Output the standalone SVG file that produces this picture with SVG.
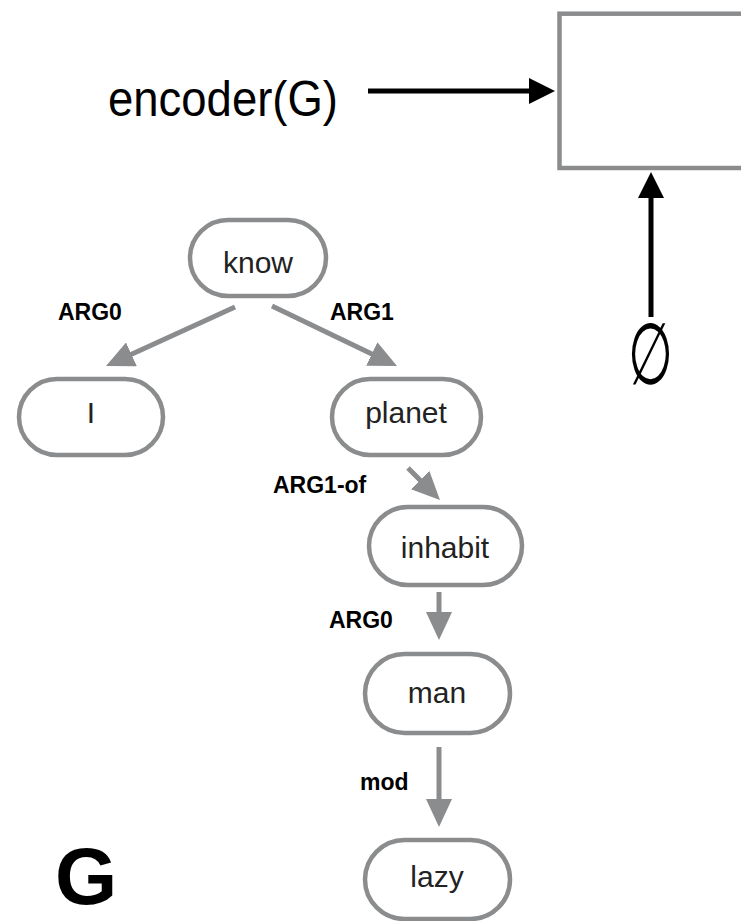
<svg xmlns="http://www.w3.org/2000/svg" width="741" height="921" viewBox="0 0 741 921">
<defs>
<style>
.pill{fill:#fff;stroke:#8a8c8e;stroke-width:4.5}
.nt{font-family:"Liberation Sans",Arial,sans-serif;font-size:30px;fill:#222;text-anchor:middle}
.lbl{font-family:"Liberation Sans",Arial,sans-serif;font-size:23px;font-weight:bold;fill:#000}
.ge{stroke:#8a8c8e;stroke-width:5;fill:none}
.be{stroke:#000;stroke-width:5;fill:none}
</style>
<marker id="ag" markerUnits="userSpaceOnUse" markerWidth="28" markerHeight="26" viewBox="0 0 28 26" refX="18" refY="13" orient="auto">
<path d="M0,0 L28,13 L0,26 z" fill="#8a8c8e"/>
</marker>
<marker id="ab" markerUnits="userSpaceOnUse" markerWidth="26" markerHeight="26" viewBox="0 0 26 26" refX="16" refY="13" orient="auto">
<path d="M0,0 L26,13 L0,26 z" fill="#000"/>
</marker>
</defs>
<rect width="741" height="921" fill="#fff"/>

<g id="decoder-box">
<rect x="559.5" y="13.7" width="200" height="154.3" fill="#fff" stroke="#8a8c8e" stroke-width="4.5"/>
</g>
<g id="encoder-label">
<text x="108" y="116" font-family="'Liberation Sans',Arial,sans-serif" font-size="50" textLength="230" lengthAdjust="spacingAndGlyphs" fill="#000">encoder(G)</text>
</g>
<g id="empty-set">
<text transform="translate(651,384) scale(0.72,1.2)" x="0" y="0" font-family="'Liberation Serif','DejaVu Serif',serif" font-size="72" text-anchor="middle" fill="#000">∅</text>
</g>

<g id="connectors">
<line class="be" x1="368" y1="91" x2="545" y2="91" marker-end="url(#ab)"/>
<line class="be" x1="651" y1="317" x2="651" y2="182" marker-end="url(#ab)"/>
<line class="ge" x1="235" y1="307" x2="115.1" y2="361.8" marker-end="url(#ag)"/>
<line class="ge" x1="272" y1="306" x2="388" y2="361.7" marker-end="url(#ag)"/>
<line class="ge" x1="408" y1="468" x2="432.9" y2="492.9" marker-end="url(#ag)"/>
<line class="ge" x1="439" y1="592" x2="439" y2="630" marker-end="url(#ag)"/>
<line class="ge" x1="439" y1="747" x2="439" y2="817" marker-end="url(#ag)"/>
<text class="lbl" x="58" y="320">ARG0</text>
<text class="lbl" x="330" y="320">ARG1</text>
<text class="lbl" x="273" y="493">ARG1-of</text>
<text class="lbl" x="329" y="628">ARG0</text>
<text class="lbl" x="360" y="790">mod</text>
</g>

<g id="node-know"><rect class="pill" x="190" y="220" width="136" height="76" rx="38"/><text class="nt" x="258" y="273">know</text></g>
<g id="node-I"><rect class="pill" x="19" y="379" width="144" height="76" rx="38"/><text class="nt" x="91" y="423">I</text></g>
<g id="node-planet"><rect class="pill" x="332" y="379" width="149" height="76" rx="38"/><text class="nt" x="406" y="423">planet</text></g>
<g id="node-inhabit"><rect class="pill" x="369" y="507" width="153" height="78" rx="39"/><text class="nt" x="445" y="558">inhabit</text></g>
<g id="node-man"><rect class="pill" x="365" y="654" width="145" height="79" rx="39.5"/><text class="nt" x="437" y="703">man</text></g>
<g id="node-lazy"><rect class="pill" x="365" y="840" width="145" height="79" rx="39.5"/><text class="nt" x="437" y="887">lazy</text></g>

<g id="graph-label">
<text x="55" y="904" font-family="'Liberation Sans',Arial,sans-serif" font-size="80" font-weight="bold" fill="#000">G</text>
</g>
</svg>
